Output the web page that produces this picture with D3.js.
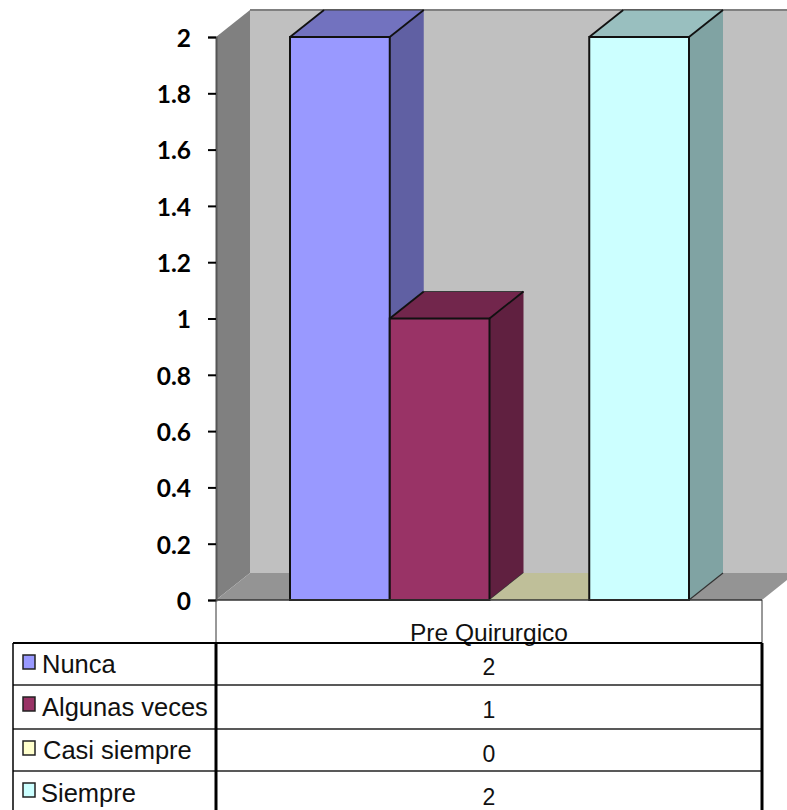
<!DOCTYPE html>
<html>
<head>
<meta charset="utf-8">
<script src="https://cdn.jsdelivr.net/npm/d3@7"></script>
<style>
html,body{margin:0;padding:0;background:#fff}
svg{display:block}
</style>
</head>
<body>
<svg id="chart" width="787" height="810"></svg>
<script>
// Survey responses for the pre-surgical group
const categoryName = "Pre Quirurgico";
const seriesNames = ["Nunca", "Algunas veces", "Casi siempre", "Siempre"];
const seriesValues = [2, 1, 0, 2];
const seriesFront = ["#9999ff", "#993366", "#ffffcc", "#ccffff"];
const seriesTop = ["#7272bf", "#72264c", "#bfbf99", "#99bfbf"];
const seriesSide = ["#6060a3", "#602040", "#a3a380", "#80a3a3"];
const tickValues = [0, 0.2, 0.4, 0.6, 0.8, 1, 1.2, 1.4, 1.6, 1.8, 2];

const svg = d3.select("#chart");
const W = 787, H = 810;

// Plot frame and 3D depth offset
const left = 216, right = 762, dx = 34, dy = 27;
const y = d3.scaleLinear().domain([0, 2]).range([600, 37]);
const x = d3.scaleBand().domain(seriesNames).range([290, 689]).paddingInner(0);
const poly = (pts, fill) => svg.append("polygon")
  .attr("points", pts.map(p => p.join(",")).join(" "))
  .attr("fill", fill);
const edge = (a, b, w, c) => svg.append("line")
  .attr("x1", a[0]).attr("y1", a[1]).attr("x2", b[0]).attr("y2", b[1])
  .attr("stroke", c || "#111").attr("stroke-width", w);

const y0 = y(0), yT = y(2);

// Walls and floor
poly([[left + dx, yT - dy], [W, yT - dy], [W, y0 - dy], [left + dx, y0 - dy]], "#c0c0c0");
poly([[left, yT], [left + dx, yT - dy], [left + dx, y0 - dy], [left, y0]], "#808080");
poly([[left, y0], [left + dx, y0 - dy], [W, y0 - dy], [W, y0 - 20], [right, y0]], "#949494");
edge([left + dx, yT - dy], [W, yT - dy], 2, "#808080");

// Bars: depth faces first, then the front
seriesNames.forEach((name, i) => {
  const x0 = x(name), x1 = x0 + x.bandwidth(), yv = y(seriesValues[i]);
  poly([[x1, yv], [x1 + dx, yv - dy], [x1 + dx, y0 - dy], [x1, y0]], seriesSide[i]);
  poly([[x0, yv], [x0 + dx, yv - dy], [x1 + dx, yv - dy], [x1, yv]], seriesTop[i]);
  if (seriesValues[i] > 0) {
    edge([x0 + dx, yv - dy], [x1 + dx, yv - dy], 1.2, "#3a3a3a");
    edge([x0, yv], [x0 + dx, yv - dy], 1.8);
    edge([x1, yv], [x1 + dx, yv - dy], 1.8);
    edge([x1, y0], [x1 + dx, y0 - dy], 1.2, "#333");
    svg.append("rect").attr("x", x0).attr("y", yv)
      .attr("width", x.bandwidth()).attr("height", y0 - yv)
      .attr("fill", seriesFront[i]).attr("stroke", "#111").attr("stroke-width", 2);
  }
});

edge([left, y0], [right, y0], 1.5, "#333");

// Value axis
const axis = d3.axisLeft(y).tickValues(tickValues).tickSize(8).tickPadding(17)
  .tickFormat(d3.format("~g"));
const gAxis = svg.append("g").attr("transform", `translate(${left},0)`).call(axis);
gAxis.select(".domain").attr("stroke", "#555").attr("stroke-width", 2);
gAxis.selectAll(".tick line").attr("stroke", "#000").attr("stroke-width", 2);
gAxis.selectAll("text").attr("font-family", "Lato, sans-serif").attr("font-weight", 700)
  .attr("font-size", 24.5).attr("fill", "#000").attr("dy", "0.38em");

// Data table below the plot
const rowLines = [643, 685, 729, 771];
const nameBaselines = [673, 716, 759, 802];
const valueBaselines = [675, 718, 762, 805];
const nameOffsets = [42, 42, 43, 41];
const swatchTops = [655, 697, 741, 783];
const tableLeft = 13, font = "'Liberation Sans', Arial, sans-serif";
const mid = (left + right) / 2;

edge([left, y0], [left, rowLines[0]], 1, "#333");
edge([right, y0], [right, rowLines[0]], 1, "#333");

svg.append("text").attr("x", mid).attr("y", 641)
  .attr("text-anchor", "middle").attr("font-family", font).attr("font-size", 24.5)
  .attr("fill", "#111").text(categoryName);

rowLines.forEach((ry, i) => edge([tableLeft, ry], [right, ry], i === 0 ? 2 : 1.5, i === 0 ? "#000" : "#222"));
edge([tableLeft, rowLines[0]], [tableLeft, H], 1.5, "#000");
edge([left, rowLines[0]], [left, H], 3, "#000");
edge([right, rowLines[0]], [right, H], 3, "#000");

seriesNames.forEach((name, i) => {
  svg.append("rect").attr("x", 23).attr("y", swatchTops[i]).attr("width", 12).attr("height", 14)
    .attr("fill", seriesFront[i]).attr("stroke", "#222").attr("stroke-width", 1.5);
  svg.append("text").attr("x", nameOffsets[i]).attr("y", nameBaselines[i])
    .attr("font-family", font).attr("font-size", 25.5).attr("fill", "#111").text(name);
  svg.append("text").attr("x", mid).attr("y", valueBaselines[i])
    .attr("text-anchor", "middle").attr("font-family", font).attr("font-size", 23)
    .attr("fill", "#111").text(seriesValues[i]);
});
</script>
</body>
</html>
